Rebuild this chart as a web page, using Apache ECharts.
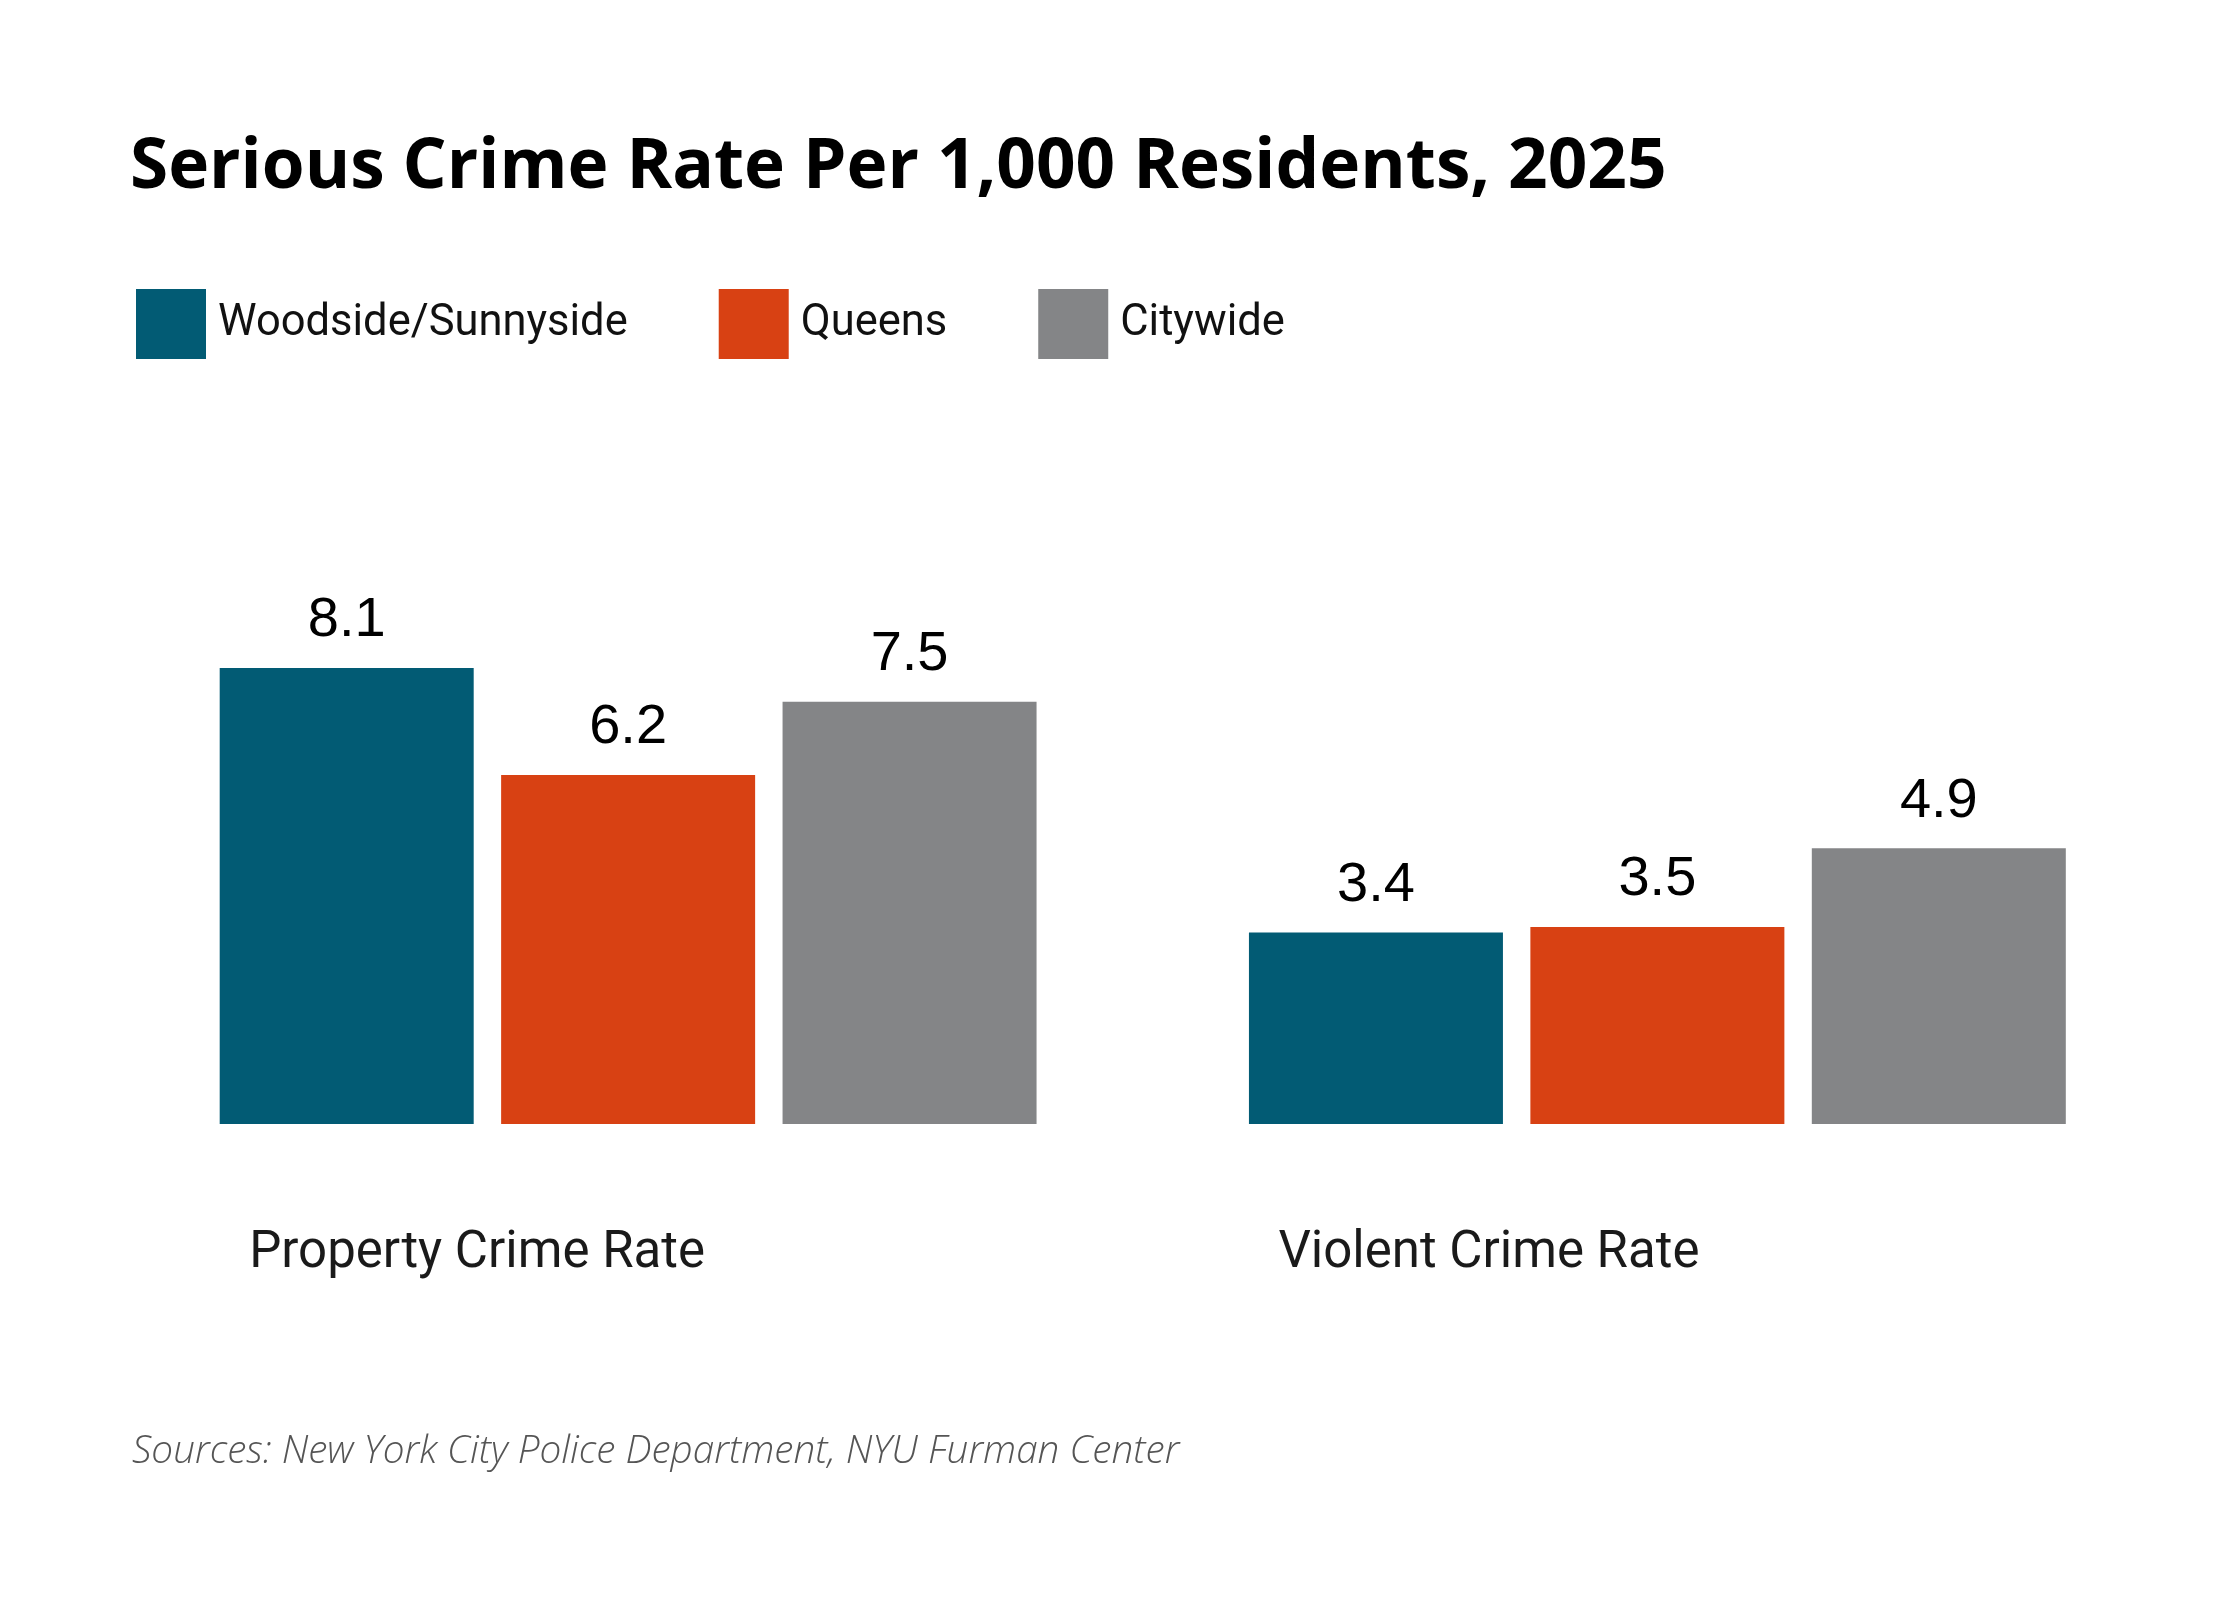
<!DOCTYPE html>
<html>
<head>
<meta charset="utf-8">
<title>Serious Crime Rate Per 1,000 Residents, 2025</title>
<script src="https://cdn.jsdelivr.net/npm/echarts@6/dist/echarts.min.js"></script>
<style>
	html, body { margin:0; padding:0; background:#fff; }
	#chart { width:2240px; height:1600px; }
</style>
</head>
<body>
<div id="chart"></div>
<script>
// data
var categories = ['Property Crime Rate', 'Violent Crime Rate'];
var seriesNames = ['Woodside/Sunnyside', 'Queens', 'Citywide'];
var woodsideValues = [8.1, 3.4];
var queensValues = [6.2, 3.5];
var citywideValues = [7.5, 4.9];

var colors = ['#025B74', '#D84113', '#848587'];

var myChart = echarts.init(document.getElementById('chart'));

var makeSeries = function(name, values, color){
	return {
		name:name,
		type:'bar',
		data:values,
		barWidth:254,
		barGap:'10.8%',
		itemStyle:{color:color},
		label:{
			show:true,
			position:'top',
			distance:19,
			fontFamily:'Liberation Sans, Arial, sans-serif',
			fontSize:56,
			color:'#000'
		}
	};
};

var option = {
	animation:false,
	backgroundColor:'#fff',
	title:[
		{
			text:'Serious Crime Rate Per 1,000 Residents, 2025',
			left:130,
			top:134,
			padding:0,
			textStyle:{fontFamily:'Open Sans', fontWeight:'bold', fontSize:69.3, color:'#000'}
		},
		{
			text:'Sources: New York City Police Department, NYU Furman Center',
			left:132,
			top:1432,
			padding:0,
			textStyle:{fontFamily:'Open Sans', fontStyle:'italic', fontWeight:300, fontSize:38.7, color:'#555'}
		}
	],
	legend:{
		left:136,
		top:289,
		padding:0,
		icon:'rect',
		itemWidth:70,
		itemHeight:70,
		itemGap:91,
		data:seriesNames,
		textStyle:{fontFamily:'Roboto', fontSize:43.5, color:'#111', padding:[13,0,0,7]}
	},
	grid:{
		left:113.5,
		right:68,
		top:561,
		bottom:476,
		outerBoundsMode:'none'
	},
	xAxis:{
		type:'category',
		data:categories,
		axisLine:{show:false},
		axisTick:{show:false},
		axisLabel:{
			interval:0,
			margin:105,
			formatter:function(v){ return '{c|' + v + '}'; },
			rich:{
				c:{width:758, align:'left', fontFamily:'Roboto', fontSize:51, color:'#1a1a1a'}
			}
		}
	},
	yAxis:{
		type:'value',
		min:0,
		max:10,
		show:false
	},
	series:[
		makeSeries(seriesNames[0], woodsideValues, colors[0]),
		makeSeries(seriesNames[1], queensValues, colors[1]),
		makeSeries(seriesNames[2], citywideValues, colors[2])
	]
};

myChart.setOption(option);
</script>
</body>
</html>
